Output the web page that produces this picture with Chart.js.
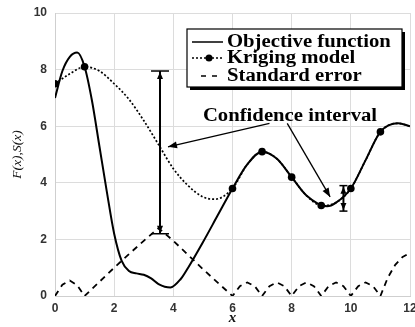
<!DOCTYPE html>
<html lang="en">
<head>
<meta charset="UTF-8">
<title>Kriging model</title>
<script src="https://cdn.jsdelivr.net/npm/chart.js"></script>
<style>
  html, body { margin: 0; padding: 0; background: #fff; }
  #wrap { width: 415px; height: 327px; }
</style>
</head>
<body>
<div id="wrap"><canvas id="grafico" width="415" height="327"></canvas></div>
<script>
// objective function (solid)
const objX = [0, 0.25, 0.5, 0.75, 1, 1.25, 1.5, 1.75, 2, 2.25, 2.5, 2.75, 3, 3.25, 3.5, 3.9, 4.25, 4.5, 5, 5.5, 6, 6.5, 7, 7.5, 8, 8.5, 9.2, 9.5, 10, 10.5, 11, 11.6, 12];
const objY = [7.0, 7.95, 8.45, 8.6, 8.1, 6.9, 5.3, 3.7, 2.2, 1.25, 0.88, 0.8, 0.75, 0.62, 0.42, 0.3, 0.6, 1.0, 1.9, 2.85, 3.8, 4.65, 5.1, 4.85, 4.2, 3.55, 3.17, 3.3, 3.8, 4.8, 5.8, 6.1, 6.0];

// kriging model (dotted) and its sample points
const krigX = [0, 0.5, 1, 1.5, 2, 2.5, 3, 3.5, 4, 4.5, 5, 5.4, 6, 6.5, 7, 7.5, 8, 8.5, 9, 9.5, 10, 10.5, 11, 11.6, 12];
const krigY = [7.5, 7.85, 8.1, 7.95, 7.5, 6.95, 6.2, 5.35, 4.5, 3.9, 3.5, 3.42, 3.8, 4.65, 5.1, 4.85, 4.2, 3.55, 3.2, 3.3, 3.8, 4.8, 5.8, 6.1, 6.0];
const sampleX = [0, 1, 6, 7, 8, 9, 10, 11];

// standard error (dashed)
const seX = [0, 0.25, 0.5, 0.75, 1, 1.5, 2, 2.5, 3, 3.5, 4, 4.5, 5, 5.5, 6,
  6.25, 6.5, 6.75, 7, 7.25, 7.5, 7.75, 8, 8.25, 8.5, 8.75, 9, 9.25, 9.5, 9.75, 10, 10.25, 10.5, 10.75, 11,
  11.25, 11.5, 11.75, 12];
const seY = [0, 0.4, 0.55, 0.38, 0, 0.5, 1.0, 1.48, 1.95, 2.4, 1.95, 1.45, 0.95, 0.47, 0,
  0.35, 0.48, 0.35, 0, 0.35, 0.48, 0.35, 0, 0.35, 0.48, 0.35, 0, 0.35, 0.48, 0.35, 0, 0.35, 0.48, 0.35, 0,
  0.65, 1.1, 1.38, 1.52];

// confidence intervals
const barX = [3.55, 9.75];
const barLo = [2.2, 3.0];
const barHi = [7.95, 3.9];

const xTicks = [0, 2, 4, 6, 8, 10, 12];
const yTicks = [0, 2, 4, 6, 8, 10];

const pares = (xs, ys) => xs.map((v, i) => ({ x: v, y: ys[i] }));

// desenha setas, intervalos, texto e legenda
const SERIF = 'bold 18px "Liberation Serif", "DejaVu Serif", serif';
function linha(ctx, x1, y1, x2, y2) {
  ctx.beginPath(); ctx.moveTo(x1, y1); ctx.lineTo(x2, y2); ctx.stroke();
}
function ponta(ctx, x1, y1, x2, y2, len, wid) {
  const a = Math.atan2(y2 - y1, x2 - x1);
  ctx.beginPath();
  ctx.moveTo(x2, y2);
  ctx.lineTo(x2 - len * Math.cos(a) + wid * Math.sin(a), y2 - len * Math.sin(a) - wid * Math.cos(a));
  ctx.lineTo(x2 - len * Math.cos(a) - wid * Math.sin(a), y2 - len * Math.sin(a) + wid * Math.cos(a));
  ctx.closePath(); ctx.fill();
}
function texto(ctx, s, x, y) {
  ctx.save(); ctx.translate(x, y); ctx.scale(1.15, 1); ctx.fillText(s, 0, 0); ctx.restore();
}

const notas = {
  id: 'notas',
  afterDatasetsDraw(chart) {
    const { ctx, chartArea: area, scales: { x, y } } = chart;
    ctx.save();
    ctx.strokeStyle = '#000';
    ctx.fillStyle = '#000';
    ctx.setLineDash([]);

    const caps = [9, 4];
    barX.forEach((bx, i) => {
      const px = x.getPixelForValue(bx);
      const top = y.getPixelForValue(barHi[i]);
      const bot = y.getPixelForValue(barLo[i]);
      ctx.lineWidth = 2;
      linha(ctx, px, top, px, bot);
      ctx.lineWidth = 1.5;
      linha(ctx, px - caps[i], top, px + caps[i], top);
      linha(ctx, px - caps[i], bot, px + caps[i], bot);
      ponta(ctx, px, bot, px, top + 1, 7, 3);
      ponta(ctx, px, top, px, bot - 1, 7, 3);
    });

    // setas do rótulo
    const setas = [[7.25, 6.1, 3.82, 5.27], [7.85, 6.1, 9.3, 3.5]];
    ctx.lineWidth = 1.3;
    setas.forEach(s => {
      const x1 = x.getPixelForValue(s[0]), y1 = y.getPixelForValue(s[1]);
      const x2 = x.getPixelForValue(s[2]), y2 = y.getPixelForValue(s[3]);
      linha(ctx, x1, y1, x2, y2);
      ponta(ctx, x1, y1, x2, y2, 9, 3.5);
    });
    ctx.font = SERIF;
    ctx.textBaseline = 'middle';
    ctx.textAlign = 'left';
    texto(ctx, 'Confidence interval', x.getPixelForValue(5.0), y.getPixelForValue(6.35));

    // legenda com sombra
    const W = 215, H = 58;
    const L = area.right - 223, T = area.top + 16;
    ctx.fillRect(L + 3, T + 3, W, H);
    ctx.fillStyle = '#fff';
    ctx.fillRect(L, T, W, H);
    ctx.lineWidth = 1.2;
    ctx.strokeRect(L, T, W, H);
    ctx.fillStyle = '#000';
    const rows = [T + 13, T + 29, T + 47];
    const nomes = ['Objective function', 'Kriging model', 'Standard error'];
    ctx.lineWidth = 1.5;
    linha(ctx, L + 5, rows[0], L + 36, rows[0]);
    ctx.setLineDash([2, 2]);
    linha(ctx, L + 5, rows[1], L + 36, rows[1]);
    ctx.setLineDash([5, 6]);
    linha(ctx, L + 14, rows[2], L + 36, rows[2]);
    ctx.setLineDash([]);
    ctx.beginPath(); ctx.arc(L + 22, rows[1], 3.5, 0, Math.PI * 2); ctx.fill();
    nomes.forEach((n, i) => texto(ctx, n, L + 40, rows[i]));
    ctx.restore();
  }
};

const ctx = document.getElementById('grafico');
new Chart(ctx, {
  type: 'line',
  data: {
    datasets: [
      {
        label: 'Objective function',
        data: pares(objX, objY),
        borderColor: '#000',
        borderWidth: 2,
        pointRadius: 0,
        cubicInterpolationMode: 'monotone'
      },
      {
        label: 'Kriging model',
        data: pares(krigX, krigY),
        borderColor: '#000',
        borderWidth: 1.7,
        borderDash: [2, 2],
        backgroundColor: '#000',
        pointBackgroundColor: '#000',
        pointBorderWidth: 0,
        pointRadius: c => sampleX.includes(c.raw && c.raw.x) ? 3.8 : 0,
        cubicInterpolationMode: 'monotone'
      },
      {
        label: 'Standard error',
        data: pares(seX, seY),
        borderColor: '#000',
        borderWidth: 1.8,
        borderDash: [6, 5],
        pointRadius: 0,
        tension: 0
      }
    ]
  },
  options: {
    responsive: false,
    animation: false,
    devicePixelRatio: 1,
    layout: { padding: { top: 13, right: 5, left: 0, bottom: 0 } },
    plugins: { legend: { display: false }, tooltip: { enabled: false } },
    scales: {
      x: {
        type: 'linear',
        min: 0, max: 12,
        afterBuildTicks: s => { s.ticks = xTicks.map(v => ({ value: v })); },
        afterFit: s => { s.height = 31; s.paddingLeft = 0; s.paddingRight = 0; },
        grid: { color: '#dcdcdc', drawTicks: false },
        border: { color: '#cfcfcf' },
        ticks: { padding: 5, color: '#333', font: { family: '"Liberation Sans", Arial, sans-serif', size: 12, weight: 'bold' } },
        title: { display: true, text: 'x', color: '#111', padding: { top: 0, bottom: 0 },
                 font: { family: '"Liberation Serif", serif', size: 15, style: 'italic', weight: 'bold' } }
      },
      y: {
        min: 0, max: 10,
        afterBuildTicks: s => { s.ticks = yTicks.map(v => ({ value: v })); },
        afterFit: s => { s.width = 55; s.paddingTop = 0; s.paddingBottom = 0; },
        grid: { color: '#dcdcdc', drawTicks: false },
        border: { color: '#cfcfcf' },
        ticks: { padding: 8, color: '#333', font: { family: '"Liberation Sans", Arial, sans-serif', size: 12, weight: 'bold' } },
        title: { display: true, text: 'F(x),S(x)', color: '#111', padding: { top: 9, bottom: 0 },
                 font: { family: '"Liberation Serif", serif', size: 13.5, style: 'italic' } }
      }
    }
  },
  plugins: [notas]
});
</script>
</body>
</html>
